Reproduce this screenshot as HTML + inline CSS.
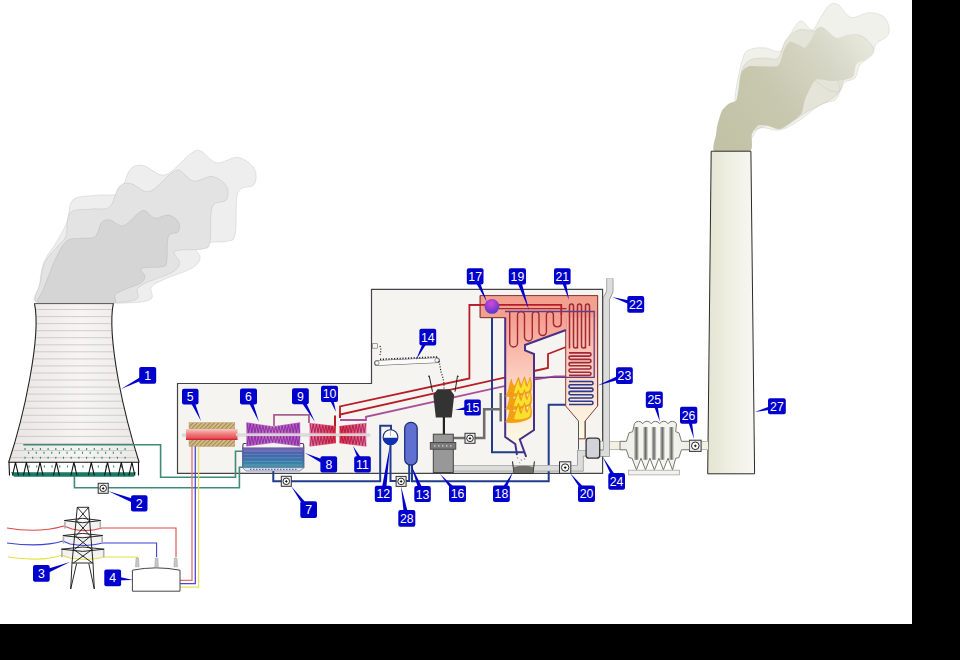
<!DOCTYPE html>
<html><head><meta charset="utf-8"><style>
html,body{margin:0;padding:0;background:#000;}
svg{display:block}
.lb text{font-family:"Liberation Sans",sans-serif;font-size:12.3px;fill:#fff;text-anchor:middle}
</style></head><body>
<svg width="960" height="660" viewBox="0 0 960 660">
<rect x="0" y="0" width="960" height="660" fill="#000"/>
<rect x="0" y="0" width="912" height="624" fill="#fff"/>
<defs>
  <linearGradient id="towerG" x1="0" x2="1" y1="0" y2="0">
    <stop offset="0" stop-color="#e9e5e5"/><stop offset="0.55" stop-color="#f7f4f4"/><stop offset="1" stop-color="#ebe8e8"/>
  </linearGradient>
  <linearGradient id="chimG" x1="0" x2="1" y1="0" y2="0">
    <stop offset="0" stop-color="#e4e4d2"/><stop offset="0.45" stop-color="#eeeee2"/><stop offset="1" stop-color="#f8f7f3"/>
  </linearGradient>
  <linearGradient id="boilG" x1="0" x2="0" y1="0" y2="1">
    <stop offset="0" stop-color="#f59a8a"/><stop offset="0.45" stop-color="#fbcabb"/><stop offset="0.8" stop-color="#fbefdc"/><stop offset="1" stop-color="#fafae2"/>
  </linearGradient>
  <linearGradient id="condG" x1="0" x2="0" y1="0" y2="1">
    <stop offset="0" stop-color="#7a64b4"/><stop offset="0.3" stop-color="#4a62ac"/><stop offset="0.65" stop-color="#3a78a8"/><stop offset="1" stop-color="#3a98a0"/>
  </linearGradient>
  <radialGradient id="drumG" cx="0.45" cy="0.3" r="0.75">
    <stop offset="0" stop-color="#d848d8"/><stop offset="1" stop-color="#4838c8"/>
  </radialGradient>
  <linearGradient id="smokeG" x1="0" x2="1" y1="0.8" y2="0.2">
    <stop offset="0" stop-color="#c2c2a6"/><stop offset="0.4" stop-color="#c8c8b0"/><stop offset="0.75" stop-color="#d6d6c6"/><stop offset="1" stop-color="#e6e6da"/>
  </linearGradient>
  <linearGradient id="turbP" x1="0" x2="1" y1="0" y2="0">
    <stop offset="0" stop-color="#b858c8"/><stop offset="0.5" stop-color="#c870c8"/><stop offset="1" stop-color="#b858c8"/>
  </linearGradient>
  <linearGradient id="turbIP" x1="0" x2="1" y1="0" y2="0">
    <stop offset="0" stop-color="#e878a8"/><stop offset="1" stop-color="#e83848"/>
  </linearGradient>
  <linearGradient id="turbHP" x1="0" x2="1" y1="0" y2="0">
    <stop offset="0" stop-color="#e83040"/><stop offset="1" stop-color="#e878a8"/>
  </linearGradient>
  <linearGradient id="genG" x1="0" x2="0" y1="0" y2="1">
    <stop offset="0" stop-color="#f8c8c0"/><stop offset="0.5" stop-color="#f07878"/><stop offset="1" stop-color="#e84050"/>
  </linearGradient>
  <pattern id="hatch" width="3" height="3" patternUnits="userSpaceOnUse" patternTransform="rotate(45)">
    <rect width="3" height="3" fill="#d8c088"/><rect width="1.2" height="3" fill="#a08858"/>
  </pattern>
  <linearGradient id="precG" x1="0" x2="1" y1="0" y2="0">
    <stop offset="0" stop-color="#eeeee8"/><stop offset="0.5" stop-color="#f8f8f4"/><stop offset="1" stop-color="#eeeee8"/>
  </linearGradient>
</defs>
<path d="M177.5,383.5 L371.5,383.5 L371.5,289.3 L602.6,289.3 L602.6,473.3 L177.5,473.3 Z" fill="#f5f4f0" stroke="#444" stroke-width="1.2"/>
<g stroke="#b8b8b8">
 <path fill="#eeeeee" d="M38.0,303.4 C29.1,300.3 38.5,291.9 39.5,285.0 C40.5,278.1 41.2,269.0 44.0,262.0 C46.8,255.0 52.2,249.7 56.0,243.0 C59.8,236.3 64.1,229.2 67.0,222.0 C69.9,214.8 68.2,204.1 73.3,199.6 C78.4,195.2 90.0,196.4 97.6,195.2 C105.2,194.1 113.7,196.9 119.1,192.7 C124.5,188.4 126.0,174.2 130.0,169.7 C134.1,165.1 137.6,164.7 143.4,165.6 C149.3,166.5 157.4,176.8 165.0,175.0 C172.6,173.2 183.4,158.8 189.3,154.7 C195.2,150.7 195.6,149.3 200.1,150.7 C204.7,152.0 210.1,161.7 216.3,162.8 C222.6,164.0 231.6,156.6 237.9,157.5 C244.2,158.4 251.4,163.8 254.1,168.4 C256.8,172.9 256.8,180.5 254.1,184.6 C251.4,188.6 241.0,184.6 237.9,192.7 C234.8,200.8 237.1,225.1 235.3,233.2 C233.5,241.3 233.9,239.5 227.2,241.3 C220.4,243.0 199.3,241.1 194.8,243.8 C190.3,246.5 200.6,253.4 200.1,257.5 C199.7,261.5 197.9,264.6 192.0,268.1 C186.2,271.7 171.7,275.8 165.0,279.0 C158.2,282.2 154.5,283.5 151.5,287.1 C148.6,290.7 157.3,298.0 147.5,300.7 C137.7,303.5 111.0,303.2 92.7,303.6 C74.5,304.0 46.9,306.5 38.0,303.4Z" stroke-width="0.35"/>
 <path fill="#e3e3e3" d="M38.3,303.4 C30.7,299.8 39.4,288.9 40.5,282.0 C41.6,275.1 42.1,268.0 45.0,262.0 C47.9,256.0 54.5,250.3 58.0,246.0 C61.5,241.7 64.0,241.5 66.0,236.0 C68.0,230.5 65.8,217.4 70.0,212.9 C74.2,208.4 84.4,210.1 91.0,209.1 C97.6,208.1 105.0,210.6 109.6,206.9 C114.3,203.2 115.5,190.9 119.0,187.0 C122.5,183.1 125.6,182.7 130.6,183.5 C135.7,184.3 142.6,193.2 149.2,191.6 C155.8,190.1 165.2,177.6 170.2,174.1 C175.3,170.6 175.7,169.5 179.6,170.6 C183.5,171.8 188.2,180.1 193.6,181.1 C199.1,182.1 206.8,175.7 212.2,176.5 C217.7,177.3 223.9,182.0 226.2,185.9 C228.6,189.8 228.6,196.4 226.2,199.9 C223.9,203.4 214.9,199.9 212.2,206.9 C209.5,213.9 211.5,234.9 210.0,241.9 C208.5,248.9 208.8,247.3 203.0,248.9 C197.2,250.4 178.9,248.8 175.0,251.1 C171.1,253.5 180.0,259.4 179.6,262.9 C179.2,266.4 177.7,269.0 172.6,272.1 C167.6,275.2 155.1,278.8 149.2,281.5 C143.4,284.2 140.1,285.4 137.6,288.5 C135.1,291.6 142.7,297.7 134.1,300.3 C125.5,302.8 102.0,303.1 86.1,303.6 C70.1,304.1 45.9,307.0 38.3,303.4Z" stroke-width="0.4"/>
 <path fill="#d5d5d5" d="M39.5,303.4 C34.0,301.1 41.4,294.7 43.0,290.0 C44.6,285.3 46.8,280.3 49.0,275.0 C51.2,269.7 53.0,263.7 56.0,258.0 C59.0,252.3 62.4,244.3 66.7,241.0 C71.0,237.7 77.0,239.0 81.7,238.3 C86.4,237.6 91.7,239.3 95.0,236.7 C98.3,234.1 99.2,225.3 101.7,222.5 C104.2,219.7 106.4,219.4 110.0,220.0 C113.6,220.6 118.6,226.9 123.3,225.8 C128.0,224.7 134.7,215.8 138.3,213.3 C141.9,210.8 142.2,210.0 145.0,210.8 C147.8,211.6 151.1,217.6 155.0,218.3 C158.9,219.0 164.4,214.4 168.3,215.0 C172.2,215.6 176.6,218.9 178.3,221.7 C180.0,224.5 180.0,229.2 178.3,231.7 C176.6,234.2 170.2,231.7 168.3,236.7 C166.4,241.7 167.8,256.7 166.7,261.7 C165.6,266.7 165.9,265.6 161.7,266.7 C157.5,267.8 144.5,266.6 141.7,268.3 C138.9,270.0 145.3,274.2 145.0,276.7 C144.7,279.2 143.6,281.1 140.0,283.3 C136.4,285.5 127.5,288.1 123.3,290.0 C119.1,291.9 116.8,292.8 115.0,295.0 C113.2,297.2 119.0,302.0 112.5,303.4 C106.0,304.8 88.2,303.6 76.0,303.6 C63.8,303.6 45.0,305.7 39.5,303.4Z" stroke-width="0.5"/>
</g>
<path d="M34.5,303.6 L113.3,303.6 C110,320 112,345 118.3,380 C124,410 132,440 139.2,462.5 L8.6,462.5 C16,440 24,410 29.5,380 C36,345 38,320 34.5,303.6 Z" fill="url(#towerG)"/>
<path d="M36.2,309.5H111.6 M37.0,316.6H110.8 M37.1,323.6H110.7 M36.5,330.7H111.3 M36.0,337.7H111.8 M35.4,344.8H112.4 M34.7,351.8H113.1 M33.7,358.9H114.1 M32.6,365.9H115.2 M31.6,373.0H116.2 M30.5,380.0H117.3 M28.8,387.1H119.0 M27.2,394.1H120.6 M25.5,401.2H122.3 M23.8,408.2H124.0 M22.1,415.3H125.7 M20.4,422.3H127.4 M18.5,429.4H129.3 M16.6,436.4H131.2 M14.7,443.5H133.1 M12.8,450.5H135.0 M10.9,457.6H136.9" stroke="#c4c0c0" stroke-width="0.75" fill="none"/>
<path d="M113.3,303.6 C110,320 112,345 118.3,380 C124,410 132,440 139.2,462.5 M8.6,462.5 C16,440 24,410 29.5,380 C36,345 38,320 34.5,303.6" fill="none" stroke="#222" stroke-width="1.1"/><path d="M34,303.6 H113.8" stroke="#555" stroke-width="1"/>
<path d="M23.3,444.8 H160.6 V477.3 H235.5 V451.3 H242.5" fill="none" stroke="#3f8a78" stroke-width="1.6"/>
<path d="M74.4,476 V487.7 H239.4 V467.2 H243" fill="none" stroke="#3f8a78" stroke-width="1.6"/>
<path d="M25.0,448v2 M32.7,448v2 M40.4,448v2 M48.1,448v2 M55.8,448v2 M63.5,448v2 M71.2,448v2 M78.9,448v2 M86.6,448v2 M94.3,448v2 M102.0,448v2 M109.7,448v2 M117.4,448v2 M125.1,448v2 M28.6,451.7v2 M36.3,451.7v2 M44.0,451.7v2 M51.7,451.7v2 M59.4,451.7v2 M67.1,451.7v2 M74.8,451.7v2 M82.5,451.7v2 M90.2,451.7v2 M97.9,451.7v2 M105.6,451.7v2 M113.3,451.7v2 M121.0,451.7v2 M25.0,456.7v2 M32.7,456.7v2 M40.4,456.7v2 M48.1,456.7v2 M55.8,456.7v2 M63.5,456.7v2 M71.2,456.7v2 M78.9,456.7v2 M86.6,456.7v2 M94.3,456.7v2 M102.0,456.7v2 M109.7,456.7v2 M117.4,456.7v2 M125.1,456.7v2 M29.0,465.5v2 M36.7,465.5v2 M44.4,465.5v2 M52.1,465.5v2 M59.8,465.5v2 M67.5,465.5v2 M75.2,465.5v2 M82.9,465.5v2 M90.6,465.5v2 M98.3,465.5v2 M106.0,465.5v2 M113.7,465.5v2 M121.4,465.5v2" stroke="#2a8a70" stroke-width="1.1" fill="none"/>
<path d="M11,472.3 H136 L134,476.8 H14 Z" fill="#187a62"/>
<path d="M8.6,462.3 H139 M9,462.3 L9.5,475.5 M12.5,475.5 L15.5,462.3 L18.5,475.5 M23.4,475.5 L26.4,462.3 L29.4,475.5 M37.0,475.5 L40,462.3 L43.0,475.5 M53.4,475.5 L56.4,462.3 L59.4,475.5 M70.9,475.5 L73.9,462.3 L76.9,475.5 M88.3,475.5 L91.3,462.3 L94.3,475.5 M104.5,475.5 L107.5,462.3 L110.5,475.5 M118.3,475.5 L121.3,462.3 L124.3,475.5 M128.9,475.5 L131.9,462.3 L134.9,475.5 M138.5,462.3 L138.5,475.5" stroke="#111" stroke-width="1.1" fill="none"/>
<path d="M735.0,100.0 C735.5,86.4 740.2,66.9 742.7,58.5 C745.2,50.1 746.5,51.2 750.3,49.4 C754.1,47.6 760.5,47.6 765.5,47.9 C770.5,48.2 776.3,53.5 780.6,51.0 C784.9,48.5 788.2,37.5 791.2,32.7 C794.2,27.9 796.8,23.8 798.8,22.0 C800.8,20.2 801.0,20.7 803.3,22.0 C805.6,23.3 809.4,30.5 812.4,29.7 C815.4,28.9 818.2,21.0 821.0,17.0 C823.8,13.0 826.2,7.6 829.0,5.5 C831.8,3.4 834.3,2.5 838.0,4.5 C841.7,6.5 845.8,15.9 851.0,17.3 C856.2,18.7 863.6,12.8 869.0,12.7 C874.4,12.5 880.3,14.0 883.6,16.4 C886.9,18.8 888.4,24.0 889.0,27.3 C889.6,30.6 889.1,33.7 887.0,36.4 C884.9,39.1 878.9,40.5 876.4,43.6 C873.9,46.7 874.7,51.4 872.0,55.0 C869.3,58.6 862.8,61.2 860.0,65.0 C857.2,68.8 857.5,75.2 855.0,78.0 C852.5,80.8 847.5,79.8 845.0,82.0 C842.5,84.2 841.7,88.0 840.0,91.0 C838.3,94.0 838.3,97.7 835.0,100.0 C831.7,102.3 825.8,101.7 820.0,105.0 C814.2,108.3 806.7,115.8 800.0,120.0 C793.3,124.2 786.7,128.7 780.0,130.0 C773.3,131.3 765.0,126.3 760.0,128.0 C755.0,129.7 753.3,138.0 750.0,140.0 C746.7,142.0 742.5,146.7 740.0,140.0 C737.5,133.3 734.5,113.6 735.0,100.0Z" fill="#f1f1ec" stroke="#d0d0c8" stroke-width="0.5"/>
<path d="M739.7,90.0 C739.2,81.7 740.2,75.0 742.0,70.0 C743.8,65.0 746.5,62.0 750.3,60.0 C754.1,58.0 760.4,58.3 765.0,58.0 C769.6,57.7 774.5,61.0 778.0,58.0 C781.5,55.0 782.5,44.7 786.0,40.0 C789.5,35.3 794.0,31.5 798.8,30.0 C803.5,28.5 810.7,31.4 814.5,31.0 C818.3,30.6 818.1,26.1 821.8,27.3 C825.4,28.5 830.6,37.0 836.4,38.2 C842.2,39.4 851.0,33.9 856.4,34.5 C861.8,35.1 866.3,38.8 869.0,41.8 C871.7,44.8 874.8,49.1 872.7,52.7 C870.6,56.3 859.7,59.6 856.4,63.6 C853.1,67.5 854.8,73.7 852.7,76.4 C850.6,79.1 845.7,77.6 843.6,80.0 C841.5,82.4 842.1,89.2 840.0,91.0 C837.9,92.8 834.0,91.9 831.0,91.0 C828.0,90.1 824.4,87.4 821.8,85.5 C819.2,83.6 814.8,81.5 815.5,79.7 C816.2,78.0 822.8,75.5 826.0,75.0 C829.2,74.5 832.7,74.2 835.0,76.7 C837.3,79.2 840.5,86.4 839.7,90.3 C838.9,94.2 835.0,96.7 830.0,100.0 C825.0,103.3 815.9,106.7 810.0,110.0 C804.1,113.3 799.5,116.8 794.5,120.0 C789.5,123.2 784.5,128.1 780.0,129.0 C775.5,129.9 772.0,125.3 767.3,125.5 C762.6,125.7 755.7,130.9 752.0,130.0 C748.3,129.1 747.0,126.7 745.0,120.0 C743.0,113.3 740.2,98.3 739.7,90.0Z" fill="#e4e4d8" stroke="#c8c8bc" stroke-width="0.5"/>
<path d="M714.5,151.0 C711.1,149.4 715.7,137.6 716.0,135.0 C716.3,132.4 716.7,127.9 717.3,125.5 C717.9,123.1 720.6,113.2 721.8,111.0 C723.0,108.8 727.5,104.7 729.0,103.6 C730.5,102.5 735.4,101.8 736.4,100.0 C737.4,98.2 738.5,88.3 739.0,85.5 C739.5,82.7 740.7,73.8 741.8,71.8 C742.9,69.8 746.7,66.6 750.3,66.0 C753.9,65.4 774.3,67.5 777.6,66.0 C780.9,64.5 782.4,53.4 783.6,51.0 C784.8,48.6 788.2,42.4 789.7,41.8 C791.2,41.2 797.3,44.2 798.8,44.8 C800.3,45.4 803.6,48.4 804.8,47.9 C806.0,47.4 809.7,42.3 810.9,40.3 C812.1,38.3 815.6,29.4 817.0,28.2 C818.4,27.0 822.6,27.2 824.5,28.2 C826.4,29.2 834.2,37.5 836.4,38.2 C838.5,38.9 844.0,35.4 846.0,35.0 C848.0,34.6 854.1,33.8 856.4,34.5 C858.7,35.2 867.4,40.0 869.0,41.8 C870.6,43.6 873.1,50.9 872.7,52.7 C872.3,54.5 866.6,58.9 865.0,60.0 C863.4,61.1 857.6,62.0 856.4,63.6 C855.2,65.2 854.0,74.8 852.7,76.4 C851.4,78.0 845.8,79.5 843.6,80.0 C841.4,80.5 833.8,81.0 831.0,81.0 C828.2,81.0 818.0,78.0 815.5,79.7 C813.0,81.4 806.9,94.9 805.5,98.2 C804.1,101.5 802.9,110.5 801.8,112.7 C800.7,114.9 796.7,118.4 794.5,120.0 C792.3,121.6 782.7,128.4 780.0,129.0 C777.3,129.6 769.5,125.8 767.3,125.5 C765.1,125.2 759.5,124.6 758.0,125.5 C756.5,126.4 752.6,131.9 751.8,134.5 C751.0,137.1 753.7,149.3 750.0,151.0 C746.3,152.7 717.9,152.6 714.5,151.0Z" fill="url(#smokeG)"/>
<path d="M711.2,151.2 L750.9,151.2 L754.6,473.8 L707.7,473.8 Z" fill="url(#chimG)" stroke="#2a2a2a" stroke-width="1"/>
<path d="M340,418 V406.4 L469.4,378.4 V304.8 H590" fill="none" stroke="#b81c28" stroke-width="1.8"/>
<path d="M340,418 V414.5 L534,371 L548,368 V354 L566,347" fill="none" stroke="#b81c28" stroke-width="1.8"/>
<path d="M340,420 H366 V416.8 L534,379.5 L555,376.3 H594 V311.5 H505" fill="none" stroke="#a85098" stroke-width="1.8"/>
<path d="M335,426 V415.5" fill="none" stroke="#b81c28" stroke-width="2"/>
<path d="M274,426 V414.9 H309 V423" fill="none" stroke="#a86090" stroke-width="1.8"/>
<path d="M273.3,470 V481.3 H380.2 V425.8 H391 V430" fill="none" stroke="#203c8c" stroke-width="2"/>
<path d="M390.5,444 V480.9 H409.2 V465" fill="none" stroke="#203c8c" stroke-width="2"/>
<path d="M412,465 V481.3 H548.7 V404.8 H568" fill="none" stroke="#203c8c" stroke-width="2"/>
<path d="M492,313 V452.2 H525" fill="none" stroke="#203c8c" stroke-width="2"/>
<rect x="182.2" y="433.6" width="188" height="3" fill="#d4d4d4"/>
<rect x="189" y="422.6" width="45.8" height="6.3" fill="url(#hatch)" stroke="#b09860" stroke-width="0.4"/>
<rect x="189" y="439.7" width="45.8" height="6.8" fill="url(#hatch)" stroke="#b09860" stroke-width="0.4"/>
<rect x="186" y="429" width="51.5" height="10.7" fill="url(#genG)"/>
<rect x="186" y="438.8" width="51.5" height="1" fill="#c81830"/>
<rect x="182.2" y="433.8" width="4" height="2.6" fill="#d8d8d8"/>
<path d="M192,446.5 V580.3 H180" fill="none" stroke="#e07070" stroke-width="1.3"/>
<path d="M195.3,446.5 V583.7 H180" fill="none" stroke="#4848d8" stroke-width="1.3"/>
<path d="M198.6,446.5 V587.2 H180" fill="none" stroke="#e8e060" stroke-width="1.3"/>
<path d="M246.4,422.3 L273.3,426.2 L300.2,422.3 V446.4 L273.3,443 L246.4,446.4Z" fill="url(#turbP)"/><path d="M247.0,423.2 L248.6,432.6 L250.2,423.6 L251.8,432.6 L253.4,424.1 L255.0,432.6 L256.6,424.6 L258.2,432.6 L259.8,425.0 L261.3,432.6 L262.9,425.5 L264.5,432.6 L266.1,426.0 L267.7,432.6 L269.3,426.4 L270.9,432.6 L272.5,426.9 L274.1,432.6 L275.7,426.7 L277.3,432.6 L278.9,426.2 L280.5,432.6 L282.1,425.7 L283.7,432.6 L285.3,425.3 L286.8,432.6 L288.4,424.8 L290.0,432.6 L291.6,424.3 L293.2,432.6 L294.8,423.9 L296.4,432.6 L298.0,423.4 L299.6,432.6 M247.0,445.5 L248.6,436.3 L250.2,445.1 L251.8,436.3 L253.4,444.7 L255.0,436.3 L256.6,444.3 L258.2,436.3 L259.8,443.9 L261.3,436.3 L262.9,443.5 L264.5,436.3 L266.1,443.1 L267.7,436.3 L269.3,442.7 L270.9,436.3 L272.5,442.3 L274.1,436.3 L275.7,442.5 L277.3,436.3 L278.9,442.9 L280.5,436.3 L282.1,443.3 L283.7,436.3 L285.3,443.7 L286.8,436.3 L288.4,444.1 L290.0,436.3 L291.6,444.5 L293.2,436.3 L294.8,444.9 L296.4,436.3 L298.0,445.3 L299.6,436.3" stroke="#7a2890" stroke-width="0.8" fill="none"/>
<path d="M309.5,422.7 L335.9,425.9 V443.2 L309.5,446.8Z" fill="url(#turbIP)"/><path d="M310.1,423.6 L311.7,432.6 L313.2,424.0 L314.8,432.6 L316.4,424.3 L318.0,432.6 L319.6,424.7 L321.1,432.6 L322.7,425.1 L324.3,432.6 L325.9,425.5 L327.4,432.6 L329.0,425.9 L330.6,432.6 L332.1,426.2 L333.7,432.6 L335.3,426.6 M310.1,445.9 L311.7,436.3 L313.2,445.5 L314.8,436.3 L316.4,445.1 L318.0,436.3 L319.6,444.6 L321.1,436.3 L322.7,444.2 L324.3,436.3 L325.9,443.8 L327.4,436.3 L329.0,443.3 L330.6,436.3 L332.1,442.9 L333.7,436.3 L335.3,442.5" stroke="#9a1848" stroke-width="0.8" fill="none"/>
<path d="M339.5,425.9 L366.4,422.7 V446.8 L339.5,443.2Z" fill="url(#turbHP)"/><path d="M340.1,426.6 L341.7,432.6 L343.3,426.2 L344.9,432.6 L346.5,425.9 L348.1,432.6 L349.7,425.5 L351.3,432.6 L352.9,425.1 L354.6,432.6 L356.2,424.7 L357.8,432.6 L359.4,424.3 L361.0,432.6 L362.6,424.0 L364.2,432.6 L365.8,423.6 M340.1,442.5 L341.7,436.3 L343.3,442.9 L344.9,436.3 L346.5,443.3 L348.1,436.3 L349.7,443.8 L351.3,436.3 L352.9,444.2 L354.6,436.3 L356.2,444.6 L357.8,436.3 L359.4,445.1 L361.0,436.3 L362.6,445.5 L364.2,436.3 L365.8,445.9" stroke="#9a1848" stroke-width="0.8" fill="none"/>
<rect x="236" y="433.4" width="133" height="2.6" fill="#dcdcdc" opacity="0.9"/>
<path d="M246.5,443.5 H244.3 Q242.9,443.5 242.9,445 V448 M300,443.5 H302.3 Q303.7,443.5 303.7,445 V448" fill="none" stroke="#4a3a6a" stroke-width="1.1"/>
<rect x="242.5" y="447.9" width="61.5" height="19.7" fill="url(#condG)" stroke="#58588a" stroke-width="0.8"/>
<path d="M244,451 H302 M244,454.4 H302 M244,457.8 H302 M244,461.4 H302 M244,465 H302" stroke="#90b8e0" stroke-width="0.6" opacity="0.6"/>
<path d="M242.5,467.6 H304 L300,471 H246 Z" fill="#dde4f0" stroke="#6a6aa0" stroke-width="0.7"/>
<path d="M250,469.3 h48" stroke="#4050a0" stroke-width="1" stroke-dasharray="1.5,1.5"/>
<circle cx="390.5" cy="437.2" r="7.4" fill="#fff" stroke="#1a2a7a" stroke-width="1.1"/>
<path d="M383.1,437.7 A7.4,7.4 0 0 0 397.9,437.7 Z" fill="#1030b0"/>
<path d="M390.5,431 V436" stroke="#888" stroke-width="0.6"/>
<rect x="404.7" y="422.4" width="12.5" height="42.6" rx="6" fill="#6070d0" stroke="#203080" stroke-width="1.3"/>
<rect x="281.3" y="476.3" width="10" height="10" fill="#ececec" stroke="#333" stroke-width="1"/><circle cx="286.3" cy="481.3" r="3.3" fill="#fff" stroke="#111" stroke-width="0.9"/><path d="M286.3,479.7 L286.9,480.7 L287.9,481.3 L286.9,481.9 L286.3,482.9 L285.7,481.9 L284.7,481.3 L285.7,480.7Z" fill="#111"/>
<rect x="396.1" y="476.4" width="10" height="10" fill="#ececec" stroke="#333" stroke-width="1"/><circle cx="401.1" cy="481.4" r="3.3" fill="#fff" stroke="#111" stroke-width="0.9"/><path d="M401.1,479.8 L401.7,480.8 L402.7,481.4 L401.7,482.0 L401.1,483.0 L400.5,482.0 L399.5,481.4 L400.5,480.8Z" fill="#111"/>
<rect x="98.2" y="483.3" width="10" height="10" fill="#ececec" stroke="#333" stroke-width="1"/><circle cx="103.2" cy="488.3" r="3.3" fill="#fff" stroke="#111" stroke-width="0.9"/><path d="M103.2,486.7 L103.8,487.7 L104.8,488.3 L103.8,488.9 L103.2,489.9 L102.6,488.9 L101.6,488.3 L102.6,487.7Z" fill="#111"/>
<path d="M480.2,295.6 H597.6 V406 L585.2,421 V438.8 H578.5 V421 L565.7,406 V317.6 H480.2 Z" fill="url(#boilG)" stroke="#8a3a3a" stroke-width="1"/>
<path d="M505.2,312 H566 V330 L525,345 V350.4 L534,354 V430 L519.8,439.5 L515.3,444 L504.6,437 Z" fill="url(#boilG)"/>
<path d="M505.2,312 V437 L515.3,444 L517,455 M566,330 L525,345 V350.4 L534,354 V430 L519.8,439.5 L526.2,456.8" fill="none" stroke="#48308a" stroke-width="2"/>
<path d="M480.2,295.6 H597.6 V317.6 H480.2 Z" fill="#f2a090"/>
<path d="M505.2,317.6 H480.2 V295.6 H597.6 V406" fill="none" stroke="#8a3a3a" stroke-width="1"/>
<path d="M469.4,304.8 H561.25 V315" fill="none" stroke="#b81c28" stroke-width="1.8"/>
<path d="M499,308.6 H566.5" fill="none" stroke="#a02838" stroke-width="1.2"/>
<path d="M509.7,312 V343.1 A3.90,3.90 0 0 0 517.5,343.1 V315 A3.50,3.50 0 0 1 524.5,315 V337.1 A3.90,3.90 0 0 0 532.3,337.1 V315 A3.35,3.35 0 0 1 539,315 V331.8 A3.70,3.70 0 0 0 546.4,331.8 V315 A3.50,3.50 0 0 1 553.4,315 V323.1 A3.93,3.93 0 0 0 561.25,323.1 V315" fill="none" stroke="#a02838" stroke-width="1.4"/>
<path d="M569.5,348.6 V306 A2.0,2.0 0 0 1 573.5,306 V346  M577.5,348.6 V306 A2.0,2.0 0 0 1 581.5,306 V346  M585.5,348.6 V306 A2.0,2.0 0 0 1 589.5,306 V346  M573.5,346 A2,2 0 0 0 577.5,346 M581.5,346 A2,2 0 0 0 585.5,346" fill="none" stroke="#a02838" stroke-width="1.5"/>
<path d="M569,352.9 H589.4 A1.60,1.60 0 0 1 589.4,356.1 H570.6 A1.65,1.65 0 0 0 570.6,359.4 H589.4 A1.60,1.60 0 0 1 589.4,362.6 H570.6 A1.60,1.60 0 0 0 570.6,365.8 H589.4 A1.60,1.60 0 0 1 589.4,369.0 H570.6 A1.60,1.60 0 0 0 570.6,372.2 H589.4 A1.60,1.60 0 0 1 589.4,375.4 H569" fill="none" stroke="#a02838" stroke-width="1.6"/>
<path d="M569,381.5 H591.4 A1.65,1.65 0 0 1 591.4,384.8 H570.6 A1.65,1.65 0 0 0 570.6,388.1 H591.4 A1.65,1.65 0 0 1 591.4,391.4 H570.6 A1.65,1.65 0 0 0 570.6,394.7 H591.4 A1.65,1.65 0 0 1 591.4,398.0 H570.6 A1.65,1.65 0 0 0 570.6,401.3 H591.4 A1.60,1.60 0 0 1 591.4,404.5 H569" fill="none" stroke="#2a3a90" stroke-width="1.6"/>
<path d="M505,311.5 H594.2 V377.3 H534" fill="none" stroke="#6a3a80" stroke-width="1.3"/>
<circle cx="491.9" cy="306.4" r="7.4" fill="url(#drumG)"/>
<path d="M505,396 C509,394 508,387 511.5,379 C512,384 514,386 515,386 C516,383 517,380 518.5,377 C520,382 521,384 521.5,385 C522.5,382 523.5,379 524.5,376.5 C526,381 527,384 527.5,385 C528.5,382 529.5,379 530,377 C532,383 532,388 531,391 C527,395 515,398 505,396Z" fill="#f5a010" stroke="#e08a10" stroke-width="0.4"/>
<path d="M514,393 C515,389 516,385 518.5,380 C519,385 520,388 521.5,388 C522,385 523,382 524.5,379 C525,384 526,387 527.5,387 C528,384 529,382 530,380 C531,385 530.5,389 529,391 C524,393 518,394 514,393Z" fill="#f8e030"/>
<path d="M505,409 C509,407 508,400 511.5,392 C512,397 514,399 515,399 C516,396 517,393 518.5,390 C520,395 521,397 521.5,398 C522.5,395 523.5,392 524.5,389.5 C526,394 527,397 527.5,398 C528.5,395 529.5,392 530,390 C532,396 532,401 531,404 C527,408 515,411 505,409Z" fill="#f5a010" stroke="#e08a10" stroke-width="0.4"/>
<path d="M514,406 C515,402 516,398 518.5,393 C519,398 520,401 521.5,401 C522,398 523,395 524.5,392 C525,397 526,400 527.5,400 C528,397 529,395 530,393 C531,398 530.5,402 529,404 C524,406 518,407 514,406Z" fill="#f8e030"/>
<path d="M505,422 C509,420 508,413 511.5,405 C512,410 514,412 515,412 C516,409 517,406 518.5,403 C520,408 521,410 521.5,411 C522.5,408 523.5,405 524.5,402.5 C526,407 527,410 527.5,411 C528.5,408 529.5,405 530,403 C532,409 532,414 531,417 C527,421 515,424 505,422Z" fill="#f5a010" stroke="#e08a10" stroke-width="0.4"/>
<path d="M514,419 C515,415 516,411 518.5,406 C519,411 520,414 521.5,414 C522,411 523,408 524.5,405 C525,410 526,413 527.5,413 C528,410 529,408 530,406 C531,411 530.5,415 529,417 C524,419 518,420 514,419Z" fill="#f8e030"/>
<rect x="499.5" y="393" width="2.4" height="28.5" fill="#6a6a6a"/>
<path d="M453.3,438 H484.2 V409.2 H501" fill="none" stroke="#6e6e6e" stroke-width="2.6"/>
<path d="M517,457 l1,2 M521,459 l0.5,2 M524,458 l1,2 M519,462 l1,1.5" stroke="#888" stroke-width="0.7"/>
<path d="M453.3,468.2 H580.3 V453.2 H586" fill="none" stroke="#8a8a8a" stroke-width="6.6" stroke-linejoin="miter"/><path d="M453.3,468.2 H580.3 V453.2 H586" fill="none" stroke="#dcdcdc" stroke-width="5.2" stroke-linejoin="miter"/>
<path d="M599.7,445.5 H708" fill="none" stroke="#8a8a80" stroke-width="9.2" stroke-linejoin="miter"/><path d="M599.7,445.5 H708" fill="none" stroke="#f2f2e4" stroke-width="7.8" stroke-linejoin="miter"/>
<path d="M609.9,278.3 V291.2 L606.4,298.8 V453.2 H599.7" fill="none" stroke="#8a8a8a" stroke-width="7.0" stroke-linejoin="miter"/><path d="M609.9,278.3 V291.2 L606.4,298.8 V453.2 H599.7" fill="none" stroke="#dcdcdc" stroke-width="5.6" stroke-linejoin="miter"/>
<path d="M578.5,421 V449.7 M585.2,421 V438.8" stroke="#555" stroke-width="1"/>
<rect x="586.1" y="438.2" width="13.6" height="20" rx="3" fill="#d2d2da" stroke="#333" stroke-width="1.3"/>
<path d="M377,363 L437,360.3" stroke="#555" stroke-width="5.6" stroke-linecap="round"/>
<path d="M377,363 L437,360.3" stroke="#fafafa" stroke-width="4.4" stroke-linecap="round"/>
<circle cx="377" cy="363" r="2.1" fill="none" stroke="#555" stroke-width="0.6"/><circle cx="437" cy="360.3" r="2.1" fill="none" stroke="#555" stroke-width="0.6"/>
<path d="M380,359.3 L438,356.9" stroke="#222" stroke-width="1.5" stroke-dasharray="1.2,1.6"/>
<path d="M380,346 l1,4 l-1,5 M439,361 l1,5 l1,6 l2,6 l1,6 l0,6" stroke="#222" stroke-width="1.2" stroke-dasharray="1.1,1.6" fill="none"/>
<rect x="372.6" y="343.7" width="5" height="4.5" fill="#f4f4f4" stroke="#666" stroke-width="0.6"/>
<path d="M429.2,375.8 L432.5,391.7 M457.5,375.8 L455,391.7 M428,376.5 l1.2,-0.7 M458.7,376.5 l-1.2,-0.7" stroke="#222" stroke-width="1" fill="none"/>
<path d="M437.5,389.2 H450 L454.2,395 L451.7,417.5 H435.8 L433.3,395 Z" fill="#333"/>
<rect x="442.8" y="417" width="2.2" height="17.5" fill="#222"/>
<rect x="433.3" y="434.2" width="20" height="38.3" fill="#989898" stroke="#444" stroke-width="1"/>
<rect x="430.3" y="442.5" width="25.5" height="6.7" fill="#7a7a7a" stroke="#444" stroke-width="0.9"/>
<path d="M434,445.8 h19" stroke="#d8d8d8" stroke-width="1.2" stroke-dasharray="1.5,2.5"/>
<rect x="465" y="433.3" width="10" height="10" fill="#ececec" stroke="#333" stroke-width="1"/><circle cx="470.0" cy="438.3" r="3.3" fill="#fff" stroke="#111" stroke-width="0.9"/><path d="M470.0,436.7 L470.6,437.7 L471.6,438.3 L470.6,438.9 L470.0,439.9 L469.4,438.9 L468.4,438.3 L469.4,437.7Z" fill="#111"/>
<rect x="559.5" y="461.8" width="11.3" height="11.5" fill="#ececec" stroke="#333" stroke-width="1"/><circle cx="565.15" cy="467.55" r="3.7" fill="#fff" stroke="#111" stroke-width="0.9"/><path d="M565.15,465.9 L565.8,466.9 L566.8,467.55 L565.8,468.2 L565.15,469.2 L564.5,468.2 L563.5,467.55 L564.5,466.9Z" fill="#111"/>
<rect x="689.5" y="440.2" width="11.6" height="11.2" fill="#ececec" stroke="#333" stroke-width="1"/><circle cx="695.3" cy="445.8" r="3.8" fill="#fff" stroke="#111" stroke-width="0.9"/><path d="M695.3,444.2 L695.9,445.2 L696.9,445.8 L695.9,446.4 L695.3,447.4 L694.7,446.4 L693.7,445.8 L694.7,445.2Z" fill="#111"/>
<path d="M620,441.3 H626.4 L629,432.8 L632.7,431.7 L634.3,423.8 A4.8,4.8 0 0 1 642.7,423.8 A4.8,4.8 0 0 1 651.2,423.8 A4.8,4.8 0 0 1 659.6,423.8 A4.8,4.8 0 0 1 668.1,423.8 A4.8,4.8 0 0 1 676.5,423.8 L676.5,423.8 L675.7,431.7 L678.9,432.8 L681.5,441.3 H689.5 V449.8 H681.5 L678.9,457.7 L675.7,458.2 L672.5,469.9 L668.0,458.2 L663.4,469.9 L658.9,458.2 L654.4,469.9 L649.9,458.2 L645.5,469.9 L641.0,458.2 L636.5,469.9 L632.0,458.2 L629,457.7 L626.4,449.8 H620 Z" fill="url(#precG)" stroke="#6a6a60" stroke-width="0.9"/>
<defs><linearGradient id="plate" x1="0" x2="1"><stop offset="0" stop-color="#d8d8d0"/><stop offset="0.5" stop-color="#6a6a68"/><stop offset="1" stop-color="#d8d8d0"/></linearGradient></defs>
<rect x="634.0" y="427" width="4.8" height="32.8" fill="url(#plate)"/>
<rect x="643.1" y="427" width="4.8" height="32.8" fill="url(#plate)"/>
<rect x="651.5" y="427" width="4.8" height="32.8" fill="url(#plate)"/>
<rect x="660.0" y="427" width="4.8" height="32.8" fill="url(#plate)"/>
<rect x="669.0" y="427" width="4.8" height="32.8" fill="url(#plate)"/>
<rect x="628.5" y="470.2" width="50.9" height="4.7" fill="#f0f0ec" stroke="#a8a8a0" stroke-width="0.8"/>
<path d="M64.4,520.5 H100.8 V528.0 C90.8,531.5 74.4,531.5 64.4,528.0 Z M62.9,535.6 H102.7 V543.1 C92.7,546.6 72.9,546.6 62.9,543.1 Z M61.4,549.2 H104.2 V556.7 C94.2,560.2 71.4,560.2 61.4,556.7 Z" fill="#f2f2f2"/>
<path d="M7,528 C30,532 50,530 64,526 L72,529 C80,531 92,531 102,528 H176 V557" fill="none" stroke="#e04848" stroke-width="1.1"/>
<path d="M7,543 C30,546 50,545 63,541 L70,544 C80,546 92,546 103,543 H156.6 V557" fill="none" stroke="#4040d8" stroke-width="1.1"/>
<path d="M8,557 C30,560 50,560 62,555 L70,558 C82,560 94,560 104,557 H137.3 V558" fill="none" stroke="#e8e040" stroke-width="1.1"/>
<path d="M77.3,507.3 H88.6 M77.3,507.3 L72,563 M88.6,507.3 L93,563 M77.3,507.3 L88.6,520.5 M88.6,507.3 L77.3,520.5 M76.2,520.5 L89.8,535.6 M89.8,520.5 L76.2,535.6 M74.8,535.6 L91.2,549.2 M91.2,535.6 L74.8,549.2 M73.3,549.2 L92.5,563 M92.5,549.2 L73.3,563 M72,563 H93 M72,563 L70.7,589 L76.6,563.5 M88.8,563.5 L94.3,589 L93,563 M64.4,520.5 L82.6,518.3 L100.8,520.5 L82.6,522.7 Z M62.9,535.6 L82.8,533.4 L102.7,535.6 L82.8,537.8000000000001 Z M61.4,549.2 L82.8,547.0 L104.2,549.2 L82.8,551.4000000000001 Z" fill="none" stroke="#111" stroke-width="0.9"/>
<path d="M64.9,521.5 v7 M100.3,521.5 v7 M63.4,536.6 v7 M102.2,536.6 v7 M61.9,550.2 v7 M103.7,550.2 v7" stroke="#b0b0b0" stroke-width="1.6"/>
<path d="M132.4,570.2 Q156,565.5 180,570.2 V591.2 H132.4 Z" fill="#fff" stroke="#444" stroke-width="1"/>
<path d="M135.5,566.8 L136.10000000000002,558 H138.5 L139.10000000000002,566.8 Z" fill="#c8c8c8" stroke="#999" stroke-width="0.5"/>
<path d="M154.79999999999998,566.8 L155.4,558 H157.79999999999998 L158.4,566.8 Z" fill="#c8c8c8" stroke="#999" stroke-width="0.5"/>
<path d="M173.89999999999998,566.8 L174.5,558 H176.89999999999998 L177.5,566.8 Z" fill="#c8c8c8" stroke="#999" stroke-width="0.5"/>
<path d="M512.5,461.4 L514,473.2 H533 L534.4,461.4" fill="none" stroke="#222" stroke-width="1"/>
<path d="M513.4,467 Q523.5,464.5 533.6,467 L533,473 H514 Z" fill="#707068"/>
<g class="lb">
<path d="M146.6,373.2 L121,389 L148.8,377.6Z" fill="#0000cc"/>
<rect x="139.2" y="367" width="17" height="16.8" rx="2" fill="#0000cc"/>
<text x="147.7" y="379.9">1</text>
<path d="M140.2,501.0 L108,491 L138.3,505.6Z" fill="#0000cc"/>
<rect x="131" y="495.2" width="16.5" height="16.2" rx="2" fill="#0000cc"/>
<text x="139.2" y="507.8">2</text>
<path d="M42.3,575.7 L70,562 L40.4,571.0Z" fill="#0000cc"/>
<rect x="33" y="565" width="16.7" height="16.7" rx="2" fill="#0000cc"/>
<text x="41.4" y="577.9">3</text>
<path d="M112.4,580.4 L133,580 L113.0,575.4Z" fill="#0000cc"/>
<rect x="104.3" y="569.5" width="16.8" height="16.8" rx="2" fill="#0000cc"/>
<text x="112.7" y="582.4">4</text>
<path d="M188.0,397.7 L201,421 L192.5,395.6Z" fill="#0000cc"/>
<rect x="182" y="388.8" width="16.5" height="15.7" rx="2" fill="#0000cc"/>
<text x="190.2" y="401.2">5</text>
<path d="M246.2,397.5 L259,422 L250.8,395.5Z" fill="#0000cc"/>
<rect x="240" y="388.5" width="17" height="16" rx="2" fill="#0000cc"/>
<text x="248.5" y="401.0">6</text>
<path d="M310.7,508.2 L291,486 L306.6,511.1Z" fill="#0000cc"/>
<rect x="300.3" y="501.3" width="16.7" height="16.7" rx="2" fill="#0000cc"/>
<text x="308.7" y="514.2">7</text>
<path d="M329.8,462.1 L305,453 L327.7,466.7Z" fill="#0000cc"/>
<rect x="320.4" y="456.3" width="16.7" height="16.2" rx="2" fill="#0000cc"/>
<text x="328.8" y="468.9">8</text>
<path d="M298.2,397.5 L315,422 L302.6,395.1Z" fill="#0000cc"/>
<rect x="292" y="388.3" width="16.8" height="16" rx="2" fill="#0000cc"/>
<text x="300.4" y="400.8">9</text>
<path d="M327.1,394.7 L336,412 L331.9,393.1Z" fill="#0000cc"/>
<rect x="321" y="385.8" width="17" height="16.2" rx="2" fill="#0000cc"/>
<text x="329.5" y="398.4">10</text>
<path d="M364.7,463.3 L353,446 L360.3,465.5Z" fill="#0000cc"/>
<rect x="354.2" y="456.3" width="16.6" height="16.2" rx="2" fill="#0000cc"/>
<text x="362.5" y="468.9">11</text>
<path d="M385.8,494.2 L390,445 L380.8,493.6Z" fill="#0000cc"/>
<rect x="374.8" y="485.8" width="17" height="16.2" rx="2" fill="#0000cc"/>
<text x="383.3" y="498.4">12</text>
<path d="M424.9,493.1 L411,465 L420.2,494.9Z" fill="#0000cc"/>
<rect x="414.3" y="486" width="16.5" height="16" rx="2" fill="#0000cc"/>
<text x="422.6" y="498.5">13</text>
<path d="M425.6,336.0 L416,360 L430.0,338.3Z" fill="#0000cc"/>
<rect x="419.4" y="328.8" width="16.8" height="16.7" rx="2" fill="#0000cc"/>
<text x="427.8" y="341.7">14</text>
<path d="M472.2,405.0 L455,410 L472.9,410.0Z" fill="#0000cc"/>
<rect x="464.3" y="399.5" width="16.5" height="16" rx="2" fill="#0000cc"/>
<text x="472.6" y="412.0">15</text>
<path d="M459.4,492.1 L440,474 L455.6,495.4Z" fill="#0000cc"/>
<rect x="449" y="485.6" width="17" height="16.3" rx="2" fill="#0000cc"/>
<text x="457.5" y="498.2">16</text>
<path d="M472.9,277.5 L487,302 L477.4,275.3Z" fill="#0000cc"/>
<rect x="466.8" y="268.3" width="16.7" height="16.2" rx="2" fill="#0000cc"/>
<text x="475.2" y="280.9">17</text>
<path d="M503.6,494.9 L513,472 L499.2,492.6Z" fill="#0000cc"/>
<rect x="493" y="485.6" width="16.8" height="16.3" rx="2" fill="#0000cc"/>
<text x="501.4" y="498.2">18</text>
<path d="M515.0,277.2 L529,310 L519.8,275.6Z" fill="#0000cc"/>
<rect x="508.8" y="268.3" width="17.2" height="16.2" rx="2" fill="#0000cc"/>
<text x="517.4" y="280.9">19</text>
<path d="M588.5,492.2 L570,473 L584.5,495.3Z" fill="#0000cc"/>
<rect x="578" y="485.6" width="17" height="16.3" rx="2" fill="#0000cc"/>
<text x="586.5" y="498.2">20</text>
<path d="M559.9,277.1 L569,300 L564.7,275.7Z" fill="#0000cc"/>
<rect x="554" y="268.3" width="16.6" height="16.2" rx="2" fill="#0000cc"/>
<text x="562.3" y="280.9">21</text>
<path d="M636.5,302.1 L612.3,296.9 L635.0,306.8Z" fill="#0000cc"/>
<rect x="627.3" y="296.1" width="16.9" height="16.7" rx="2" fill="#0000cc"/>
<text x="635.8" y="309.0">22</text>
<path d="M623.5,373.3 L597.6,385.5 L625.3,378.0Z" fill="#0000cc"/>
<rect x="616" y="367.3" width="16.8" height="16.7" rx="2" fill="#0000cc"/>
<text x="624.4" y="380.2">23</text>
<path d="M618.8,480.2 L602.5,456.5 L614.5,482.6Z" fill="#0000cc"/>
<rect x="608.3" y="473" width="16.7" height="16.8" rx="2" fill="#0000cc"/>
<text x="616.6" y="485.9">24</text>
<path d="M651.9,400.4 L660,422 L656.7,399.1Z" fill="#0000cc"/>
<rect x="645.8" y="391.5" width="17" height="16.5" rx="2" fill="#0000cc"/>
<text x="654.3" y="404.2">25</text>
<path d="M686.2,415.7 L694,439 L691.1,414.7Z" fill="#0000cc"/>
<rect x="680" y="406.7" width="17.3" height="17" rx="2" fill="#0000cc"/>
<text x="688.6" y="419.7">26</text>
<path d="M776.3,403.9 L755,412 L777.5,408.7Z" fill="#0000cc"/>
<rect x="768" y="398.3" width="17.8" height="16" rx="2" fill="#0000cc"/>
<text x="776.9" y="410.8">27</text>
<path d="M409.3,517.9 L401,486 L404.3,518.8Z" fill="#0000cc"/>
<rect x="398.3" y="510" width="17" height="16.7" rx="2" fill="#0000cc"/>
<text x="406.8" y="522.9">28</text>
</g>
</svg></body></html>
